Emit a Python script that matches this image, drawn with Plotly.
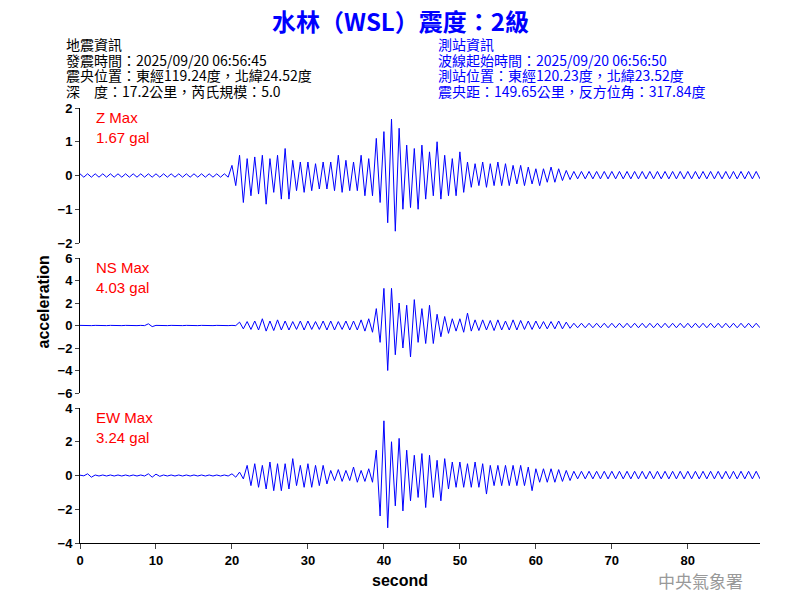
import plotly.graph_objects as go
from plotly.subplots import make_subplots

# per-second envelope of each channel (upper peak, lower peak), gal
seconds = list(range(90))

z_max = [0.05] * 20 + [0.3, 0.6, 0.5, 0.55, 0.6, 0.5, 0.6, 0.8, 0.45, 0.4,
                       0.4, 0.35, 0.4, 0.4, 0.6, 0.45, 0.4, 0.6, 0.5, 1.1,
                       1.3, 1.67, 1.4, 0.9, 0.8, 0.9, 0.7, 1.0, 0.6, 0.5,
                       0.7, 0.4, 0.35, 0.4, 0.35, 0.4, 0.35, 0.3, 0.3, 0.25,
                       0.2, 0.2, 0.25, 0.2, 0.15] + [0.12] * 25
z_min = [-0.05] * 20 + [-0.3, -0.8, -0.6, -0.55, -0.85, -0.5, -0.7, -0.7, -0.45, -0.5,
                        -0.45, -0.4, -0.4, -0.45, -0.5, -0.45, -0.45, -0.6, -0.6, -0.8,
                        -1.4, -1.65, -1.0, -0.95, -1.0, -0.7, -0.6, -0.7, -0.6, -0.6,
                        -0.5, -0.35, -0.3, -0.35, -0.3, -0.3, -0.3, -0.25, -0.3, -0.25,
                        -0.3, -0.2, -0.2, -0.15, -0.12] + [-0.1] * 25

ns_max = [0.01] * 9 + [0.15] + [0.01] * 11 + [0.3, 0.35, 0.4, 0.6, 0.4, 0.5, 0.4, 0.35, 0.4, 0.4,
                                             0.35, 0.4, 0.4, 0.35, 0.4, 0.4, 0.5, 0.6, 1.5, 3.3,
                                             3.3, 2.0, 1.8, 2.3, 1.5, 1.8, 1.0, 0.8, 0.6, 0.6,
                                             1.1, 0.5, 0.5, 0.45, 0.5, 0.4, 0.5, 0.45, 0.4, 0.4,
                                             0.35, 0.35, 0.4, 0.3] + [0.2] * 25
ns_min = [-0.01] * 9 + [-0.1] + [-0.01] * 11 + [-0.3, -0.35, -0.4, -0.5, -0.45, -0.4, -0.4, -0.35, -0.4, -0.35,
                                               -0.35, -0.4, -0.4, -0.35, -0.4, -0.4, -0.5, -0.6, -1.5, -4.0,
                                               -2.6, -2.0, -2.8, -1.5, -1.6, -1.6, -1.0, -0.7, -0.5, -0.6,
                                               -0.5, -0.45, -0.4, -0.45, -0.4, -0.4, -0.4, -0.35, -0.35, -0.3,
                                               -0.3, -0.3, -0.3, -0.25] + [-0.2] * 25

ew_max = [0.02, 0.1] + [0.03] * 7 + [0.1, 0.08] + [0.03] * 9 + [0.1, 0.2, 0.6, 0.7, 0.6, 0.8, 0.7, 0.7, 1.0, 0.6,
                                                              0.7, 0.6, 0.6, 0.3, 0.35, 0.3, 0.5, 0.3, 0.4, 1.5,
                                                              3.24, 2.0, 2.2, 1.5, 1.2, 1.3, 1.2, 0.9, 1.0, 0.8,
                                                              0.8, 0.7, 0.8, 0.7, 0.6, 0.6, 0.6, 0.6, 0.6, 0.5,
                                                              0.4, 0.4, 0.4, 0.35, 0.3] + [0.25] * 25
ew_min = [-0.02, -0.1] + [-0.03] * 7 + [-0.1, -0.05] + [-0.03] * 9 + [-0.1, -0.2, -0.6, -0.7, -0.8, -0.9, -0.9, -0.8, -0.6, -0.7,
                                                                 -0.7, -0.6, -0.5, -0.3, -0.35, -0.3, -0.4, -0.35, -0.4, -2.4,
                                                                 -3.1, -1.8, -2.1, -1.5, -1.3, -1.9, -1.3, -1.5, -0.8, -0.7,
                                                                 -0.7, -0.7, -0.7, -1.1, -0.6, -0.6, -0.6, -0.6, -0.6, -0.9,
                                                                 -0.4, -0.4, -0.4, -0.35, -0.3] + [-0.2] * 25

channels = [("Z", z_max, z_min, 2, 1, "1.67 gal"),
            ("NS", ns_max, ns_min, 6, 2, "4.03 gal"),
            ("EW", ew_max, ew_min, 4, 2, "3.24 gal")]

CJK = "Noto Sans CJK TC"
LAT = "Liberation Sans"

W, H = 800, 600
OFF = 8  # page body offset
L, R, T, B = 80 - OFF, 40 + OFF, 108 - OFF, 57 + OFF
ph = H - T - B
panel_px = [(108, 243), (258, 393), (408, 543)]


def px_x(x):
    return (x - OFF - L) / (W - L - R)


def label(px, py, text, font, **kw):
    # place text at screen pixel (px, py) by shifting from the top of the plot area
    fig.add_annotation(x=px_x(px), y=1, xref="paper", yref="paper", yanchor="middle",
                       yshift=108 - py, text=text, showarrow=False, font=font, **kw)


fig = make_subplots(rows=3, cols=1)

for i, (name, up, lo, lim, step, peak) in enumerate(channels):
    xs, ys = [], []
    for s, a, b in zip(seconds, up, lo):
        xs += [s, s + 0.5]
        ys += [a, b]
    fig.add_trace(go.Scatter(x=xs, y=ys, mode="lines", line=dict(color="#0000ff", width=1),
                             showlegend=False, hoverinfo="skip"), row=i + 1, col=1)
    top, bot = panel_px[i]
    ax = "yaxis" if i == 0 else f"yaxis{i + 1}"
    xa = "xaxis" if i == 0 else f"xaxis{i + 1}"
    fig.layout[ax].update(domain=[(543 - bot) / ph, (543 - top) / ph], range=[-lim, lim],
                          dtick=step, showline=True, linecolor="black", linewidth=1,
                          ticks="outside", ticklen=4, showgrid=False, zeroline=False,
                          tickfont=dict(family=LAT, size=13, color="black", weight="bold"))
    fig.layout[xa].update(domain=[0, 1], range=[0, 89.5], showgrid=False, zeroline=False,
                          showline=(i == 2), linecolor="black",
                          ticks="outside" if i == 2 else "", showticklabels=(i == 2), dtick=10,
                          tickfont=dict(family=LAT, size=13, color="black", weight="bold"))
    label(94, top + 9, f"{name} Max", dict(family=LAT, size=15, color="red"), xanchor="left")
    label(94, top + 29, peak, dict(family=LAT, size=15, color="red"), xanchor="left")

header_left = ["地震資訊", "發震時間：2025/09/20 06:56:45", "震央位置：東經119.24度，北緯24.52度",
               "深　度：17.2公里，芮氏規模：5.0"]
header_right = ["測站資訊", "波線起始時間：2025/09/20 06:56:50", "測站位置：東經120.23度，北緯23.52度",
                "震央距：149.65公里，反方位角：317.84度"]
for j, (a, b) in enumerate(zip(header_left, header_right)):
    yy = 44 + j * 15.5
    label(64, yy, a, dict(family=CJK, size=14, color="black"), xanchor="left")
    label(436, yy, b, dict(family=CJK, size=14, color="#0000ff"), xanchor="left")

label(400, 20, "<b>水林（WSL）震度：2級</b>", dict(family=CJK, size=24, color="#0000ff"))
label(400, 580, "<b>second</b>", dict(family=LAT, size=16, color="black"))
label(32, 302, "<b>acceleration</b>", dict(family=LAT, size=16, color="black"), textangle=-90)
label(656, 580, "中央氣象署", dict(family=CJK, size=17, color="#999999"), xanchor="left")

fig.update_layout(width=W, height=H, margin=dict(l=L, r=R, t=T, b=B),
                  paper_bgcolor="white", plot_bgcolor="white")

fig.write_html("out.html")
